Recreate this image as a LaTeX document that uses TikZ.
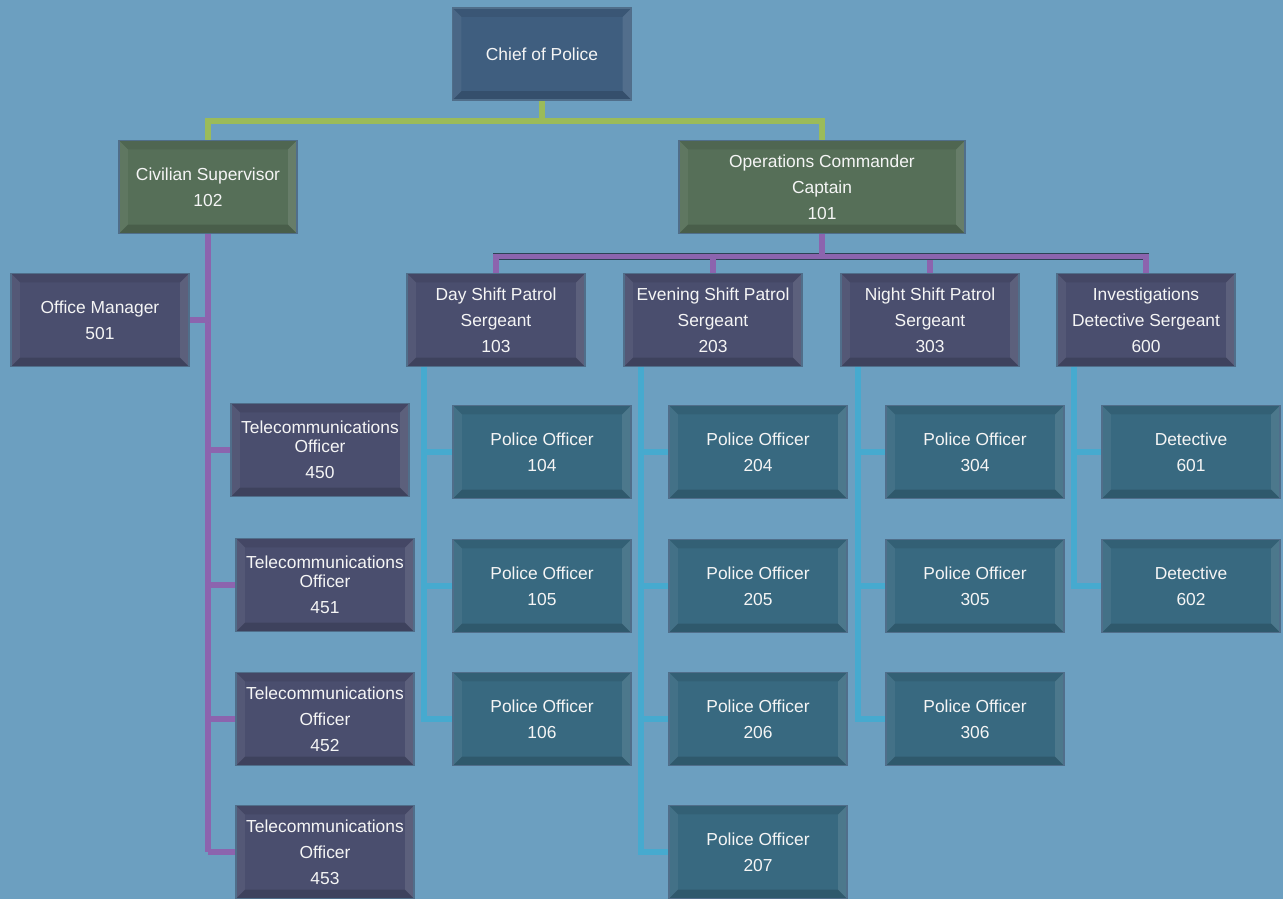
\documentclass[tikz,border=0pt]{standalone}
\usepackage{fontspec}
\setmainfont{Liberation Sans}

\definecolor{bgblue}{RGB}{108,159,192}
\definecolor{chieffill}{RGB}{63,94,127}
\definecolor{cmdfill}{RGB}{86,111,88}
\definecolor{sgtfill}{RGB}{74,78,110}
\definecolor{offfill}{RGB}{56,105,128}
\definecolor{boxline}{RGB}{80,110,138}
\definecolor{greenline}{RGB}{155,187,89}
\definecolor{purpleline}{RGB}{140,100,174}
\definecolor{blueline}{RGB}{70,170,207}
\definecolor{edgeline}{RGB}{45,65,85}

\tikzset{
  bevel/.style={path picture={
      \coordinate (bnw) at (path picture bounding box.north west);
      \coordinate (bne) at (path picture bounding box.north east);
      \coordinate (bsw) at (path picture bounding box.south west);
      \coordinate (bse) at (path picture bounding box.south east);
      \fill[white,opacity=.06] (bnw) -- (bsw) -- ([shift={(5pt,5pt)}]bsw) -- ([shift={(5pt,-5pt)}]bnw) -- cycle;
      \fill[white,opacity=.10] (bne) -- (bse) -- ([shift={(-5pt,5pt)}]bse) -- ([shift={(-5pt,-5pt)}]bne) -- cycle;
      \fill[black,opacity=.08] (bnw) -- (bne) -- ([shift={(-5pt,-5pt)}]bne) -- ([shift={(5pt,-5pt)}]bnw) -- cycle;
      \fill[black,opacity=.15] (bsw) -- (bse) -- ([shift={(-5pt,5pt)}]bse) -- ([shift={(5pt,5pt)}]bsw) -- cycle;
  }},
  box/.style={draw=boxline, line width=1pt, text=white!92!gray, align=center,
    minimum width=3.56cm, minimum height=1.86cm, inner sep=0pt,
    font=\fontsize{9.9}{14.8}\selectfont, bevel},
  chiefbox/.style={box, fill=chieffill, minimum width=3.58cm, minimum height=1.84cm},
  cmdbox/.style={box, fill=cmdfill},
  sgtbox/.style={box, fill=sgtfill},
  offbox/.style={box, fill=offfill},
  topwire/.style={draw=greenline, line width=3.4pt},
  midwire/.style={draw=purpleline, line width=3.2pt,
    preaction={draw=edgeline, line width=3.8pt}},
  lowwire/.style={draw=blueline, line width=3.2pt,
    preaction={draw=edgeline, line width=3.8pt}}
}

\begin{document}
\begin{tikzpicture}[x=0.02cm,y=-0.02cm]
        \fill[bgblue] (0,0) rectangle (1283,899);
        \useasboundingbox (0,0) rectangle (1283,899);

        % Top levels
        \node[chiefbox] (chief) at (542,54) {Chief of Police};
        \node[cmdbox] (civ) at (208,187) {Civilian Supervisor\\102};
        \node[cmdbox, minimum width=5.72cm] (ops) at (822,187) {Operations Commander\\Captain\\101};

        % Sergeants and office
        \node[sgtbox] (om) at (100,320) {Office Manager\\501};
        \node[sgtbox] (day) at (496,320) {Day Shift Patrol\\Sergeant\\103};
        \node[sgtbox] (eve) at (713,320) {Evening Shift Patrol\\Sergeant\\203};
        \node[sgtbox] (night) at (930,320) {Night Shift Patrol\\Sergeant\\303};
        \node[sgtbox] (inv) at (1146,320) {Investigations\\Detective Sergeant\\600};

        % Telecommunications
        \node[sgtbox] (tel450) at (320,450) {Telecommunications\\[-4pt]Officer\\450};
        \node[sgtbox] (tel451) at (325,585) {Telecommunications\\[-4pt]Officer\\451};
        \node[sgtbox] (tel452) at (325,719) {Telecommunications\\Officer\\452};
        \node[sgtbox] (tel453) at (325,852) {Telecommunications\\Officer\\453};

        % Officers
        \node[offbox] (po104) at (542,452) {Police Officer\\104};
        \node[offbox] (po105) at (542,586) {Police Officer\\105};
        \node[offbox] (po106) at (542,719) {Police Officer\\106};
        \node[offbox] (po204) at (758,452) {Police Officer\\204};
        \node[offbox] (po205) at (758,586) {Police Officer\\205};
        \node[offbox] (po206) at (758,719) {Police Officer\\206};
        \node[offbox] (po207) at (758,852) {Police Officer\\207};
        \node[offbox] (po304) at (975,452) {Police Officer\\304};
        \node[offbox] (po305) at (975,586) {Police Officer\\305};
        \node[offbox] (po306) at (975,719) {Police Officer\\306};
        \node[offbox] (det601) at (1191,452) {Detective\\601};
        \node[offbox] (det602) at (1191,586) {Detective\\602};

        % Chief links
        \draw[topwire] (chief.south) -- ++(0,20) -| (civ.north);
        \draw[topwire] (chief.south) -- ++(0,20) -| (ops.north);

        % Civilian links
        \draw[midwire] (civ.south) -- (civ.south |- tel453.west);
        \foreach \n in {tel450,tel451,tel452,tel453}
            \draw[midwire] (civ.south |- \n.west) -- (\n.west);
        \draw[midwire] (civ.south |- om.east) -- (om.east);

        % Operations links
        \foreach \n in {day,eve,night,inv}
            \draw[midwire] (ops.south) -- ++(0,22) -| (\n.north);

        % Shift links
        \coordinate (dayt) at ([xshift=0.36cm]day.south west);
        \coordinate (evet) at ([xshift=0.36cm]eve.south west);
        \coordinate (nightt) at ([xshift=0.36cm]night.south west);
        \coordinate (invt) at ([xshift=0.36cm]inv.south west);
        \foreach \n in {po104,po105,po106}
            \draw[lowwire] (dayt) |- (\n.west);
        \foreach \n in {po204,po205,po206,po207}
            \draw[lowwire] (evet) |- (\n.west);
        \foreach \n in {po304,po305,po306}
            \draw[lowwire] (nightt) |- (\n.west);
        \foreach \n in {det601,det602}
            \draw[lowwire] (invt) |- (\n.west);

    \end{tikzpicture}
\end{document}
